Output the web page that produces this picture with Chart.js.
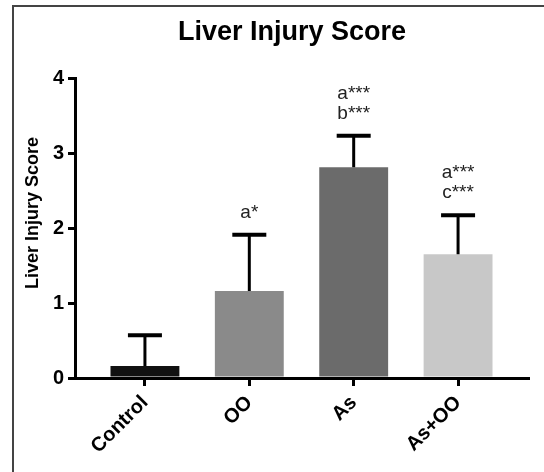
<!DOCTYPE html>
<html>
<head>
<meta charset="utf-8">
<script src="https://cdn.jsdelivr.net/npm/chart.js@4.4.1/dist/chart.umd.min.js"></script>
<style>
html, body { margin: 0; padding: 0; background: #fff; }
</style>
</head>
<body>
<canvas id="myChart" width="544" height="472"></canvas>
<script>
// data
var groups = ['Control', 'OO', 'As', 'As+OO'];
var scores = [0.16, 1.16, 2.81, 1.65];
var errors = [0.41, 0.75, 0.42, 0.52];
var barColors = ['#111111', '#8a8a8a', '#6b6b6b', '#c8c8c8'];
var marks = [[], ['a*'], ['a***', 'b***'], ['a***', 'c***']];
var yTicks = [0, 1, 2, 3, 4];

var FONT = 'Liberation Sans, Arial, sans-serif';

// frame, error bars, significance letters, titles
var extras = {
    id: 'extras',
    beforeDraw: function (chart) {
        var c = chart.ctx;
        c.save();
        c.fillStyle = '#fff';
        c.fillRect(0, 0, chart.width, chart.height);
        c.strokeStyle = '#444';
        c.lineWidth = 2;
        c.beginPath();
        c.moveTo(13, chart.height);
        c.lineTo(13, 6);
        c.lineTo(chart.width, 6);
        c.stroke();
        c.restore();
    },
    afterDatasetsDraw: function (chart) {
        var x = chart.scales.x, y = chart.scales.y, c = chart.ctx;
        c.save();
        c.strokeStyle = '#000';
        groups.forEach(function (g, i) {
            var px = x.getPixelForValue(i);
            var top = y.getPixelForValue(scores[i]);
            var hi = y.getPixelForValue(scores[i] + errors[i]);
            c.lineWidth = 3;
            c.beginPath();
            c.moveTo(px, top);
            c.lineTo(px, hi);
            c.stroke();
            c.lineWidth = 4;
            c.beginPath();
            c.moveTo(px - 17, hi);
            c.lineTo(px + 17, hi);
            c.stroke();

            var lines = marks[i];
            c.fillStyle = '#222';
            c.font = '19px ' + FONT;
            c.textAlign = 'center';
            c.textBaseline = 'alphabetic';
            lines.forEach(function (t, j) {
                var base = hi - 17 - (lines.length - 1 - j) * 20;
                c.fillText(t, px, base);
            });
        });
        c.restore();
    },
    afterDraw: function (chart) {
        var c = chart.ctx;
        c.save();
        c.fillStyle = '#000';
        c.font = 'bold 27px ' + FONT;
        c.textAlign = 'center';
        c.textBaseline = 'alphabetic';
        c.fillText('Liver Injury Score', 292, 40);

        // y axis title
        c.translate(33, 213);
        c.rotate(-Math.PI / 2);
        c.font = 'bold 18px ' + FONT;
        c.textBaseline = 'middle';
        c.fillText('Liver Injury Score', 0, 0);
        c.restore();
    }
};

var ctx = document.getElementById('myChart').getContext('2d');

var myChart = new Chart(ctx, {
    type: 'bar',
    data: {
        datasets: [{
            data: groups.map(function (g, i) { return { x: i, y: scores[i] }; }),
            backgroundColor: barColors,
            borderWidth: 0,
            barPercentage: 0.66,
            categoryPercentage: 1
        }]
    },
    options: {
        responsive: false,
        animation: false,
        layout: { padding: { top: 78, left: 14, right: 16, bottom: 0 } },
        plugins: {
            legend: { display: false },
            tooltip: { enabled: false },
            title: { display: false }
        },
        scales: {
            x: {
                type: 'linear',
                min: -0.67,
                max: 3.67,
                offset: false,
                afterBuildTicks: function (s) {
                    s.ticks = groups.map(function (g, i) { return { value: i }; });
                },
                afterFit: function (s) { s.height = 94; },
                grid: { offset: false, drawOnChartArea: false, drawTicks: true, tickLength: 8, color: '#000', lineWidth: 3 },
                border: { color: '#000', width: 3 },
                ticks: {
                    autoSkip: false,
                    minRotation: 45,
                    maxRotation: 45,
                    padding: 5,
                    color: '#000',
                    font: { family: FONT, size: 20, weight: 'bold' },
                    callback: function (v) { return groups[v]; }
                }
            },
            y: {
                min: 0,
                max: 4,
                afterBuildTicks: function (s) {
                    s.ticks = yTicks.map(function (v) { return { value: v }; });
                },
                afterFit: function (s) { s.width = 61; },
                grid: { drawOnChartArea: false, drawTicks: true, tickLength: 7, color: '#000', lineWidth: 3 },
                border: { color: '#000', width: 3 },
                ticks: {
                    padding: 4,
                    color: '#000',
                    font: { family: FONT, size: 20, weight: 'bold' }
                }
            }
        }
    },
    plugins: [extras]
});
</script>
</body>
</html>
